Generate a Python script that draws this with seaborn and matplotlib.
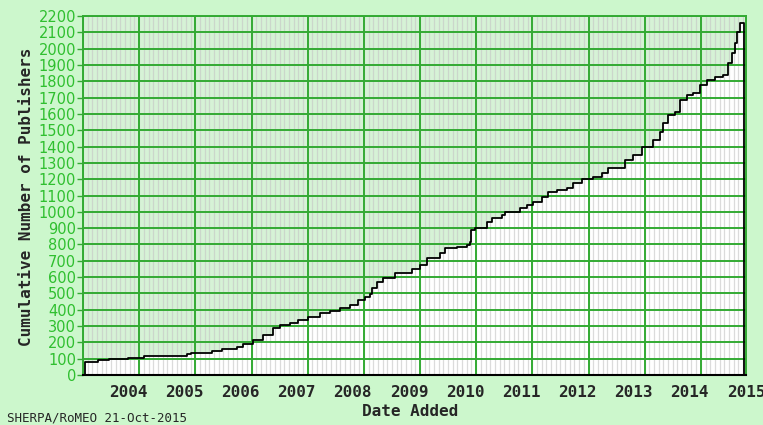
import numpy as np
import pandas as pd
import matplotlib
matplotlib.use("Agg")
import matplotlib.pyplot as plt
import seaborn as sns

# step positions (decimal year) and cumulative publisher counts
dates = [2003.235, 2003.466, 2003.662, 2004.0, 2004.285, 2005.05, 2005.121, 2005.495,
         2005.673, 2005.94, 2006.046, 2006.224, 2006.402, 2006.58, 2006.705, 2006.883,
         2007.025, 2007.203, 2007.416, 2007.594, 2007.772, 2007.95, 2008.093, 2008.217,
         2008.306, 2008.342, 2008.431, 2008.537, 2008.751, 2009.053, 2009.196, 2009.32,
         2009.552, 2009.641, 2009.854, 2010.032, 2010.085, 2010.103, 2010.174, 2010.263,
         2010.388, 2010.477, 2010.655, 2010.708, 2010.975, 2011.1, 2011.206, 2011.367,
         2011.473, 2011.633, 2011.811, 2011.918, 2012.078, 2012.274, 2012.434, 2012.541,
         2012.843, 2012.986, 2013.146, 2013.342, 2013.466, 2013.52, 2013.609, 2013.733,
         2013.822, 2013.947, 2014.053, 2014.178, 2014.302, 2014.445, 2014.587, 2014.676,
         2014.747, 2014.801, 2014.836, 2014.89, 2014.961]
counts = [80, 90, 96, 106, 116, 127, 135, 147,
          157, 173, 188, 214, 245, 286, 306, 317,
          337, 357, 378, 394, 409, 429, 460, 476,
          496, 531, 572, 596, 627, 648, 674, 715,
          746, 776, 786, 797, 817, 889, 899, 903,
          940, 964, 980, 1001, 1021, 1042, 1062, 1093,
          1123, 1134, 1144, 1175, 1199, 1215, 1240, 1266,
          1318, 1348, 1399, 1440, 1491, 1542, 1593, 1613,
          1685, 1716, 1726, 1777, 1808, 1828, 1838, 1910,
          1971, 2032, 2104, 2159, 2159]
year_labels = list(range(2004, 2016))
y_ticks = list(range(0, 2300, 100))

sns.set_style("white")
plt.rcParams["font.family"] = ["DejaVu Sans"]

green = "#33aa33"
fig = plt.figure(figsize=(7.63, 4.25), dpi=100, facecolor="#ccf7cc")
ax = fig.add_axes([83 / 763, 50 / 425, 663 / 763, 359 / 425])
ax.set_facecolor("#d6f2d6")

# close the step curve down to zero at both ends
df = pd.DataFrame({"date": [dates[0]] + dates + [dates[-1]],
                   "count": [0] + counts + [0]})

ax.fill_between(df["date"], df["count"], step="post", color="white", zorder=1)

# monthly stripes and ticks, year grid lines
grid_offset = 0.196
months = np.arange(2003 + grid_offset, 2015.0, 1 / 12)
ax.vlines(months, 0, 2200, color="#c4c4c4", lw=0.9, alpha=0.6, zorder=2)
for yv in y_ticks:
    ax.axhline(yv, color=green, lw=1.4, zorder=3)
for yr in range(2003, 2015):
    ax.axvline(yr + grid_offset, color=green, lw=1.4, zorder=3)

sns.lineplot(data=df, x="date", y="count", drawstyle="steps-post", color="black",
             lw=1.3, estimator=None, sort=False, ax=ax, zorder=4)

ax.set_xlim(2003.2, 2015.0)
ax.set_ylim(0, 2200)
ax.set_xlabel("")
ax.set_ylabel("")

ax.set_xticks(year_labels)
ax.set_xticklabels([str(y) for y in year_labels], fontfamily="DejaVu Sans Mono",
                   fontweight="bold", fontsize=11.5)
ax.set_xticks(months, minor=True)
ax.tick_params(axis="x", which="major", length=0, pad=7)
ax.tick_params(axis="x", which="minor", length=5, width=1, color="black", direction="out")
ax.set_yticks(y_ticks)
ax.set_yticklabels([str(v) for v in y_ticks], fontsize=10.5)
ax.tick_params(axis="y", length=4, width=1, color=green, labelcolor="#2fbf2f", pad=1,
               left=True)

for side in ["left", "top", "right"]:
    ax.spines[side].set_color(green)
    ax.spines[side].set_linewidth(1.4)
ax.spines["bottom"].set_color("black")
ax.spines["bottom"].set_linewidth(1.5)
ax.spines["bottom"].set_zorder(5)

fig.text(27 / 763, 1 - 197 / 425, "Cumulative Number of Publishers", rotation=90,
         ha="center", va="center", fontfamily="DejaVu Sans Mono", fontweight="bold",
         fontsize=11.5)
fig.text(410 / 763, 1 - 411 / 425, "Date Added", ha="center", va="center",
         fontfamily="DejaVu Sans Mono", fontweight="bold", fontsize=11.5)
fig.text(7 / 763, 1 - 418 / 425, "SHERPA/RoMEO 21-Oct-2015", ha="left", va="center",
         fontfamily="DejaVu Sans Mono", fontsize=9)

fig.savefig("out.png", dpi=100, facecolor=fig.get_facecolor())
